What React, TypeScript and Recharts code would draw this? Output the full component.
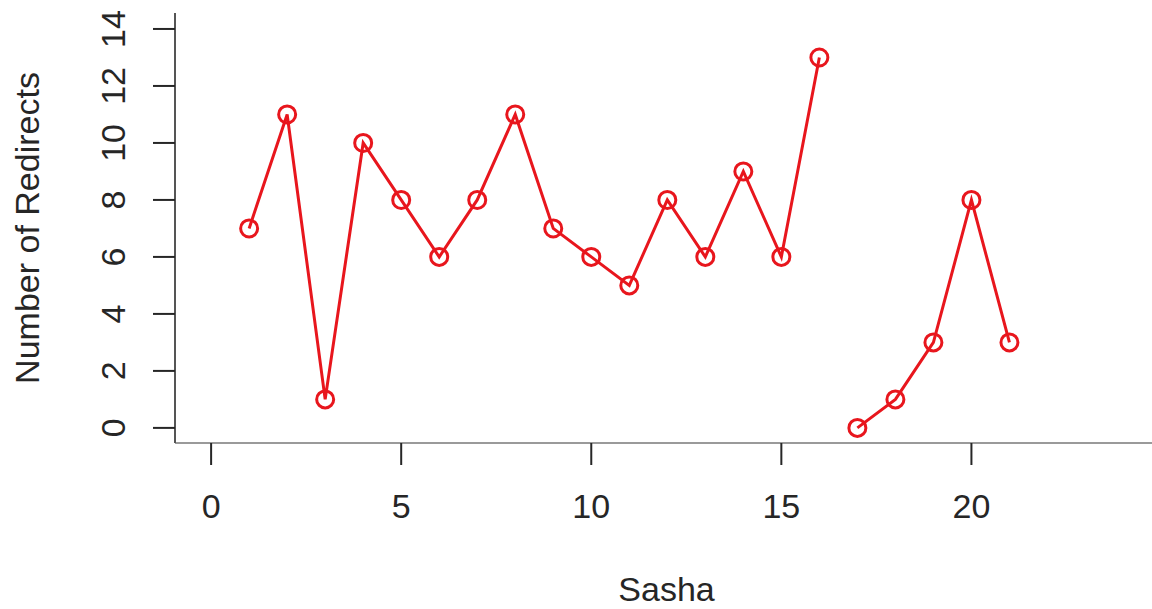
import { LineChart, Line, XAxis, YAxis, ReferenceLine } from "recharts";

// Sasha sessions 1-16, then a separate run 17-21 (not joined in the original)
const firstRunX = [1, 2, 3, 4, 5, 6, 7, 8, 9, 10, 11, 12, 13, 14, 15, 16];
const firstRunY = [7, 11, 1, 10, 8, 6, 8, 11, 7, 6, 5, 8, 6, 9, 6, 13];
const secondRunX = [17, 18, 19, 20, 21];
const secondRunY = [0, 1, 3, 8, 3];

const xTicks = [0, 5, 10, 15, 20];
const yTicks = [0, 2, 4, 6, 8, 10, 12, 14];

const X_DOMAIN: [number, number] = [-0.95, 24.75];
const Y_DOMAIN: [number, number] = [-0.53, 14.56];

const RED = "#e8161d";
const INK = "#262626";
const FONT = "'Liberation Sans', Arial, Helvetica, sans-serif";

const firstRun = firstRunX.map((x, i) => ({ x, y: firstRunY[i] }));
const secondRun = secondRunX.map((x, i) => ({ x, y: secondRunY[i] }));

function Ring(props: any) {
  const { cx, cy } = props;
  if (cx == null || cy == null) return null;
  return <circle cx={cx} cy={cy} r={8.5} fill="none" stroke={RED} strokeWidth={3} />;
}

function XTick(props: any) {
  const { x, y, payload } = props;
  return (
    <text x={x} y={y + 53} textAnchor="middle" fontSize={34} fill={INK} fontFamily={FONT}>
      {payload.value}
    </text>
  );
}

function YTick(props: any) {
  const { x, y, payload } = props;
  const tx = x - 28;
  return (
    <text
      x={tx}
      y={y}
      transform={`rotate(-90, ${tx}, ${y})`}
      textAnchor="middle"
      fontSize={34}
      fill={INK}
      fontFamily={FONT}
    >
      {payload.value}
    </text>
  );
}

export default function App() {
  return (
    <div style={{ position: "absolute", left: 0, top: 0, background: "#fff" }}>
      <LineChart
        width={1152}
        height={609}
        margin={{ top: 13, right: 0, bottom: 136, left: 115 }}
      >
        <XAxis
          type="number"
          dataKey="x"
          domain={X_DOMAIN}
          ticks={xTicks}
          allowDataOverflow
          height={30}
          axisLine={{ stroke: "#9a9a9a", strokeWidth: 2 }}
          tickLine={{ stroke: INK, strokeWidth: 2 }}
          tickSize={22}
          tickMargin={0}
          tick={<XTick />}
          label={{
            content: (p: any) => {
              const vb = p.viewBox || {};
              return (
                <text
                  x={vb.x + vb.width / 2 + 3}
                  y={601}
                  textAnchor="middle"
                  fontSize={34}
                  fill={INK}
                  fontFamily={FONT}
                >
                  Sasha
                </text>
              );
            },
          }}
        />
        <YAxis
          type="number"
          dataKey="y"
          domain={Y_DOMAIN}
          ticks={yTicks}
          allowDataOverflow
          width={60}
          axisLine={{ stroke: "#555", strokeWidth: 2 }}
          tickLine={{ stroke: INK, strokeWidth: 2 }}
          tickSize={22}
          tickMargin={0}
          tick={<YTick />}
          label={{
            content: (p: any) => {
              const vb = p.viewBox || {};
              const cy = vb.y + vb.height / 2;
              return (
                <text
                  x={39}
                  y={cy}
                  transform={`rotate(-90, 39, ${cy})`}
                  textAnchor="middle"
                  fontSize={34}
                  fill={INK}
                  fontFamily={FONT}
                >
                  Number of Redirects
                </text>
              );
            },
          }}
        />
        <ReferenceLine
          segment={[
            { x: xTicks[0], y: Y_DOMAIN[0] },
            { x: xTicks[xTicks.length - 1], y: Y_DOMAIN[0] },
          ]}
          stroke={INK}
          strokeWidth={2}
          ifOverflow="visible"
        />
        <Line
          data={firstRun}
          dataKey="y"
          stroke={RED}
          strokeWidth={3}
          dot={<Ring />}
          activeDot={false}
          isAnimationActive={false}
          type="linear"
        />
        <Line
          data={secondRun}
          dataKey="y"
          stroke={RED}
          strokeWidth={3}
          dot={<Ring />}
          activeDot={false}
          isAnimationActive={false}
          type="linear"
        />
      </LineChart>
    </div>
  );
}
